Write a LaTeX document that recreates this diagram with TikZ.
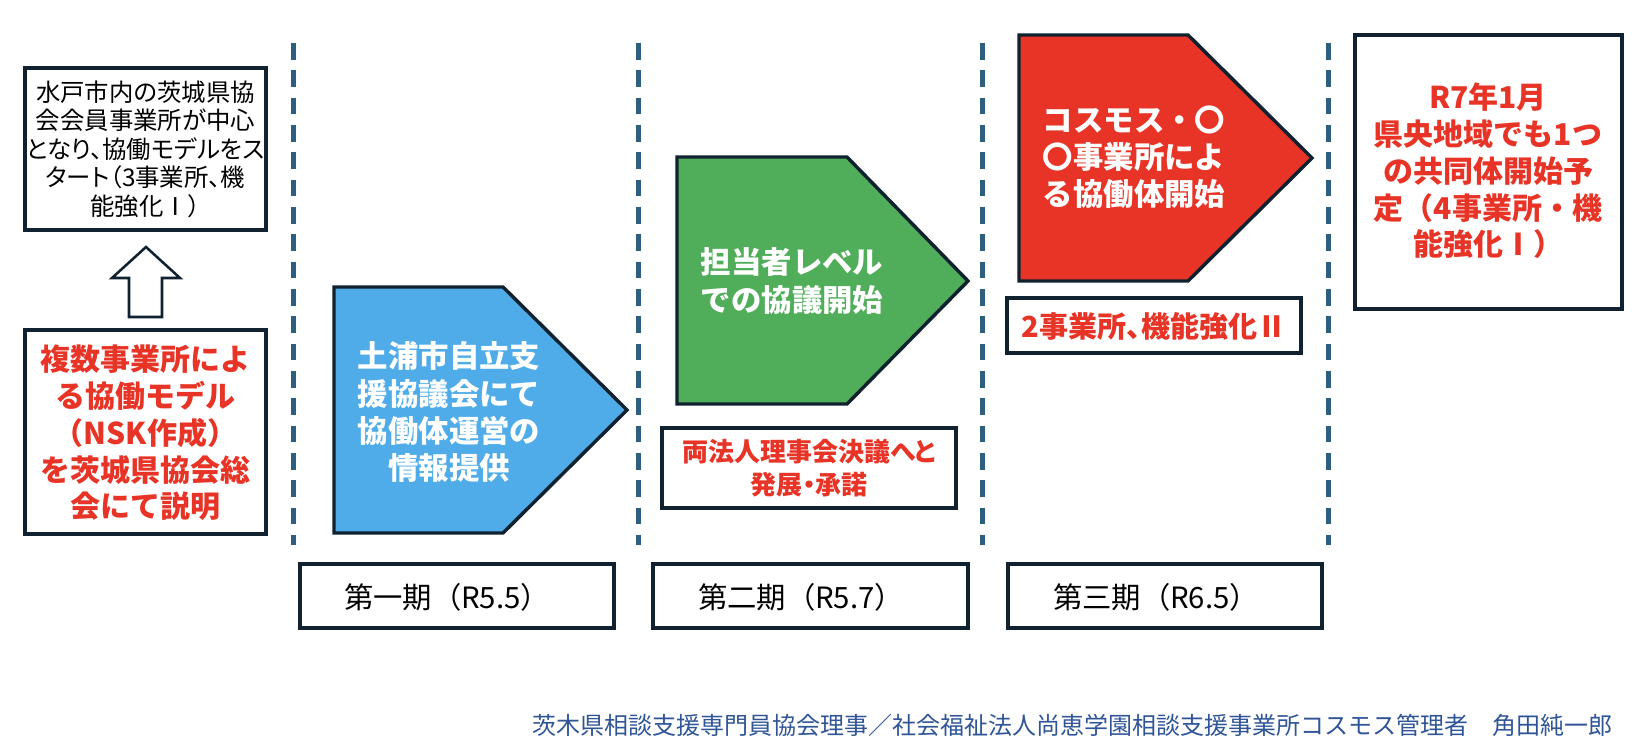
\documentclass[tikz,border=0pt]{standalone}
\usepackage{xcolor}
\usepackage{fontspec}
\usepackage{tikz}

\newfontfamily\jp{Noto Sans CJK JP}
\newfontfamily\jpp[RawFeature=+palt]{Noto Sans CJK JP}

\definecolor{navy}{RGB}{16,34,48}
\definecolor{dashblue}{RGB}{46,94,128}
\definecolor{skyfill}{RGB}{79,172,232}
\definecolor{grassfill}{RGB}{80,173,90}
\definecolor{alertred}{RGB}{232,52,38}
\definecolor{footblue}{RGB}{47,85,151}

\tikzset{
  frame/.style={draw=navy, line width=2.6pt},
  phase/.style={draw=dashblue, line width=3.75pt, dash pattern=on 12.5pt off 8pt},
  hollow/.style={draw=navy, line width=1.9pt, fill=white},
  notetext/.style={inner sep=0.75pt, align=center, text=black, font=\jpp\fontsize{18.3}{21.4}\selectfont},
  redtext/.style={inner sep=0.75pt, align=center, text=alertred, font=\jp\bfseries\fontsize{22.5}{27.6}\selectfont},
  whitetext/.style={inner sep=0.75pt, align=left, text=white, font=\jp\bfseries\fontsize{22.8}{27.8}\selectfont},
  periodtext/.style={inner sep=0.75pt, text=black, font=\jp\fontsize{22}{26}\selectfont}
}

\begin{document}
\begin{tikzpicture}[x=0.75pt,y=0.75pt,yscale=-1,xscale=1]
\useasboundingbox (0,0) rectangle (1641,748);

% period dividers
\draw [phase] (293,43) -- (293,545) ;
\draw [phase] (638,43) -- (638,545) ;
\draw [phase] (982,43) -- (982,545) ;
\draw [phase] (1328,43) -- (1328,545) ;

% left column
\draw [frame] (25,68) -- (266,68) -- (266,230) -- (25,230) -- cycle ;
\draw [hollow] (129,317) -- (129,278) -- (112,278) -- (146,247) -- (180,278) -- (162,278) -- (162,317) -- cycle ;
\draw [frame] (25,330) -- (266,330) -- (266,534) -- (25,534) -- cycle ;

% stage arrows
\draw [frame, fill=skyfill] (334,287) -- (503,287) -- (627,410) -- (503,533) -- (334,533) -- cycle ;
\draw [frame, fill=grassfill] (677,157) -- (847,157) -- (968,281) -- (847,404) -- (677,404) -- cycle ;
\draw [frame, fill=alertred] (1019,35) -- (1188,35) -- (1312,158) -- (1188,281) -- (1019,281) -- cycle ;

% side boxes
\draw [frame] (662,428) -- (956,428) -- (956,508) -- (662,508) -- cycle ;
\draw [frame] (1007,298) -- (1301,298) -- (1301,353) -- (1007,353) -- cycle ;
\draw [frame] (1355,35) -- (1622,35) -- (1622,309) -- (1355,309) -- cycle ;

% period boxes
\draw [frame] (300,564) -- (614,564) -- (614,628) -- (300,628) -- cycle ;
\draw [frame] (653,564) -- (968,564) -- (968,628) -- (653,628) -- cycle ;
\draw [frame] (1008,564) -- (1322,564) -- (1322,628) -- (1008,628) -- cycle ;

% texts
\draw (145.5,149) node [notetext] (mito) {水戸市内の茨城県協\\会会員事業所が中心\\となり、協働モデルをス\\タート（3事業所、機\\能強化Ⅰ）};
\draw (145.5,433) node [redtext] (model) {複数事業所によ\\る協働モデル\\（NSK作成）\\を茨城県協会総\\会にて説明};
\draw (449,412) node [whitetext, align=center] (tsuchiura) {土浦市自立支\\援協議会にて\\協働体運営の\\情報提供};
\draw (792,281) node [whitetext] (tanto) {担当者レベル\\での協議開始};
\draw (1134,157) node [whitetext] (cosmos) {コスモス・〇\\〇事業所によ\\る協働体開始};
\draw (809,468) node [redtext, font=\jpp\bfseries\fontsize{19.5}{24.7}\selectfont] (kessai) {両法人理事会決議へと\\発展・承諾};
\draw (1154,326) node [redtext, font=\jpp\bfseries\fontsize{21.8}{26}\selectfont] (kyoka) {2事業所、機能強化Ⅱ};
\draw (1488,171) node [redtext] (kenou) {R7年1月\\県央地域でも1つ\\の共同体開始予\\定（4事業所・機\\能強化Ⅰ）};
\draw (447,597) node [periodtext] (ki1) {第一期（R5.5）};
\draw (801,597) node [periodtext] (ki2) {第二期（R5.7）};
\draw (1156,597) node [periodtext] (ki3) {第三期（R6.5）};
\draw (1614,725) node [anchor=east, inner sep=0.75pt, text=footblue, font=\jp\fontsize{18}{21}\selectfont] (author) {茨木県相談支援専門員協会理事／社会福祉法人尚恵学園相談支援事業所コスモス管理者　角田純一郎};

\end{tikzpicture}
\end{document}
